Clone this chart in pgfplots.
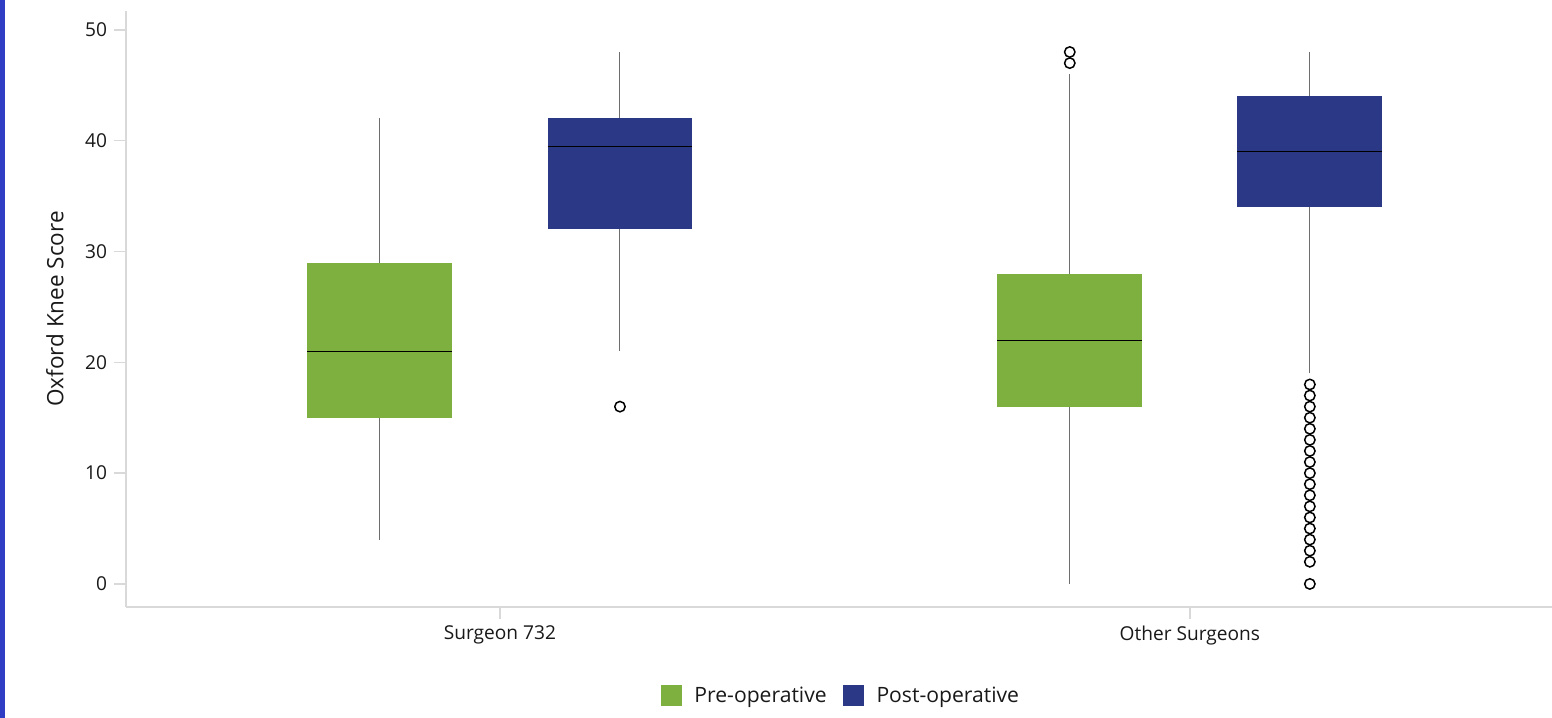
\documentclass[border=0pt]{standalone}
\usepackage{pgfplots}
\pgfplotsset{compat=1.18}
\usepackage{fontspec}
\setmainfont{Open Sans}
\definecolor{pregreen}{HTML}{7DB03F}
\definecolor{postblue}{HTML}{2B3886}
\definecolor{axgray}{HTML}{D9D9D9}
\definecolor{whisk}{HTML}{6E6E6E}
\definecolor{strip}{HTML}{2F3CC4}
\begin{document}
\begin{tikzpicture}
\path[use as bounding box, fill=white] (0,0) rectangle (776bp,359bp);
\fill[strip] (0,0) rectangle (2.6bp,359bp);
\begin{axis}[
  at={(63bp,55.5bp)}, anchor=south west, scale only axis,
  width=713bp, height=298bp,
  xmin=-0.542, xmax=1.525, ymin=-2.08, ymax=51.7,
  axis lines=left, axis line style={draw=axgray, line width=0.8bp, -},
  xtick={0,1}, xticklabels={Surgeon 732, Other Surgeons},
  ytick={0,10,20,30,40,50},
  tick align=outside, major tick length=6bp,
  tick style={draw=axgray, line width=0.8bp},
  /pgf/number format/assume math mode=true,
  ticklabel style={font=\fontsize{9.6}{11}\selectfont, text=black!90},
  ylabel={Oxford Knee Score},
  ylabel style={at={(axis description cs:-0.0498,0.5)}, anchor=center, font=\fontsize{11.3}{13}\selectfont, text=black!90},
  legend style={at={(axis description cs:0.502,-0.149)}, anchor=center, draw=none, fill=none,
    font=\fontsize{10.6}{12}\selectfont, text=black!90,
    /tikz/every even column/.append style={column sep=6bp}},
  legend columns=2,
]
\addlegendimage{legend image code/.code={\fill[pregreen] (0bp,-5bp) rectangle (10bp,5bp); \path (14.5bp,0bp);}}
\addlegendentry{Pre-operative}
\addlegendimage{legend image code/.code={\fill[postblue] (0bp,-5bp) rectangle (10bp,5bp); \path (14.5bp,0bp);}}
\addlegendentry{Post-operative}

% whiskers
\addplot[whisk, line width=0.5bp, forget plot] coordinates {(-0.174,4) (-0.174,42)};
\addplot[whisk, line width=0.5bp, forget plot] coordinates {(0.174,21) (0.174,48)};
\addplot[whisk, line width=0.5bp, forget plot] coordinates {(0.826,0) (0.826,46)};
\addplot[whisk, line width=0.5bp, forget plot] coordinates {(1.174,19) (1.174,48)};
% boxes (quartiles)
\addplot[fill=pregreen, draw=none, forget plot] coordinates {(-0.279,15) (-0.069,15) (-0.069,29) (-0.279,29)} -- cycle;
\addplot[fill=postblue, draw=none, forget plot] coordinates {(0.069,32) (0.279,32) (0.279,42) (0.069,42)} -- cycle;
\addplot[fill=pregreen, draw=none, forget plot] coordinates {(0.721,16) (0.931,16) (0.931,28) (0.721,28)} -- cycle;
\addplot[fill=postblue, draw=none, forget plot] coordinates {(1.069,34) (1.279,34) (1.279,44) (1.069,44)} -- cycle;
% medians
\addplot[black, line width=0.5bp, forget plot] coordinates {(-0.279,21) (-0.069,21)};
\addplot[black, line width=0.5bp, forget plot] coordinates {(0.069,39.5) (0.279,39.5)};
\addplot[black, line width=0.5bp, forget plot] coordinates {(0.721,22) (0.931,22)};
\addplot[black, line width=0.5bp, forget plot] coordinates {(1.069,39) (1.279,39)};
% outliers
\addplot[only marks, mark=o, mark size=2.6bp, mark options={draw=black, line width=0.75bp}, forget plot]
  coordinates {(0.174,16) (0.826,47) (0.826,48)
    (1.174,0) (1.174,2) (1.174,3) (1.174,4) (1.174,5) (1.174,6) (1.174,7) (1.174,8) (1.174,9)
    (1.174,10) (1.174,11) (1.174,12) (1.174,13) (1.174,14) (1.174,15) (1.174,16) (1.174,17) (1.174,18)};
\end{axis}
\end{tikzpicture}
\end{document}
